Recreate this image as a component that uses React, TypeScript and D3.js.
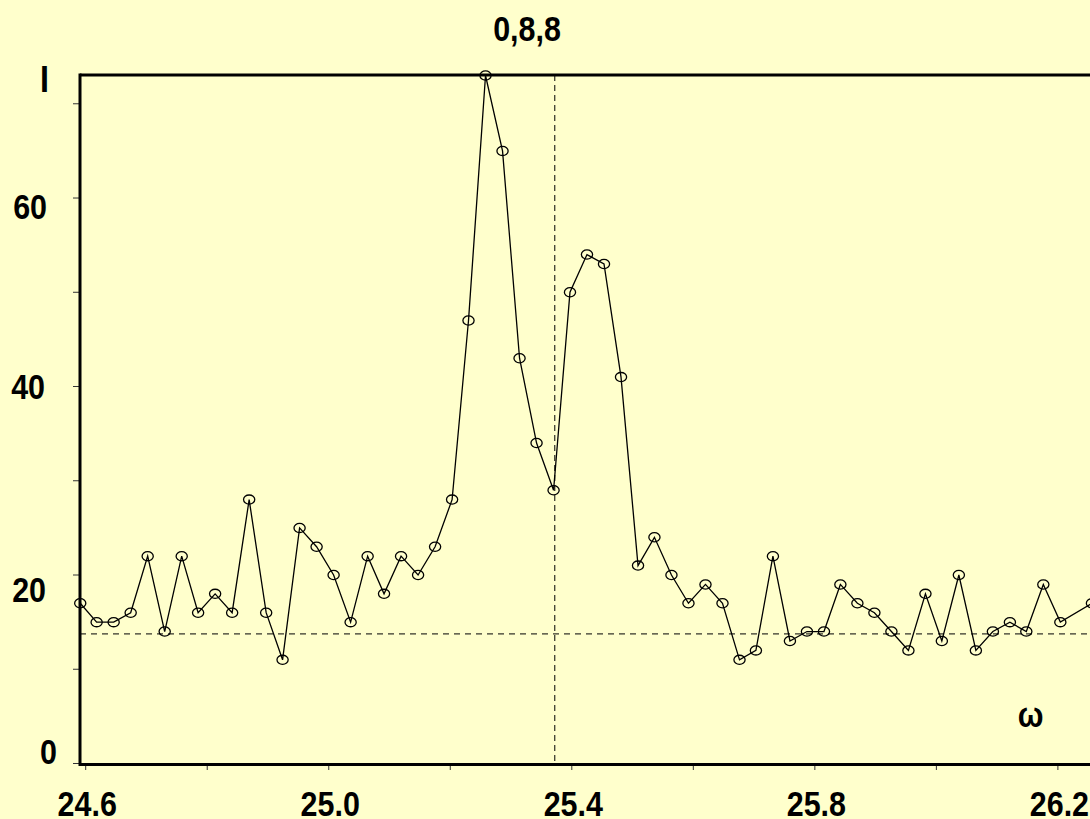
import React, { useEffect } from "react";
import * as d3 from "d3";

// ---- data ----
const omega: number[] = [
  24.591, 24.618, 24.646, 24.674, 24.702, 24.730, 24.758, 24.785, 24.813, 24.841,
  24.869, 24.897, 24.924, 24.952, 24.980, 25.008, 25.036, 25.064, 25.091, 25.119,
  25.147, 25.175, 25.203, 25.230, 25.258, 25.286, 25.314, 25.342, 25.370, 25.397,
  25.425, 25.453, 25.481, 25.509, 25.536, 25.564, 25.592, 25.620, 25.648, 25.676,
  25.703, 25.731, 25.759, 25.787, 25.815, 25.842, 25.870, 25.898, 25.926, 25.954,
  25.982, 26.009, 26.037, 26.065, 26.093, 26.121, 26.148, 26.176, 26.204, 26.256,
];
const intensity: number[] = [
  17, 15, 15, 16, 22, 14, 22, 16, 18, 16,
  28, 16, 11, 25, 23, 20, 15, 22, 18, 22,
  20, 23, 28, 47, 73, 65, 43, 34, 29, 50,
  54, 53, 41, 21, 24, 20, 17, 19, 17, 11,
  12, 22, 13, 14, 14, 19, 17, 16, 14, 12,
  18, 13, 20, 12, 14, 15, 14, 19, 15, 17,
];
const xTickLabels: number[] = [24.6, 25.0, 25.4, 25.8, 26.2];
const xTicks: number[] = [24.6, 24.8, 25.0, 25.2, 25.4, 25.6, 25.8, 26.0, 26.2];
const yTicks: number[] = [0, 10, 20, 30, 40, 50, 60, 70];
const yTickLabels: number[] = [0, 20, 40, 60];
const title = "0,8,8";
const yTitle = "I";
const xTitle = "ω";
const peakOmega = 25.372;
const backgroundLevel = 13.75;

// ---- layout ----
const W = 1090;
const H = 819;
const left = 80;
const top = 75;
const bottom = 764.5;
const BG = "#FFFFCC";
const FONT = "'Liberation Sans', Arial, Helvetica, sans-serif";
const FS = 35;
const SX = 0.87;
const yLabelLayout: Record<number, { x: number; dy: number }> = {
  0: { x: 57, dy: 0 },
  20: { x: 46, dy: 27 },
  40: { x: 45, dy: 12 },
  60: { x: 47, dy: 21 },
};

export default function App() {
  useEffect(() => {
    document.body.style.margin = "0";
    document.body.style.background = BG;
  }, []);

  const x = d3.scaleLinear().domain([24.6, 26.2]).range([85.7, 1057.9]);
  const y = d3.scaleLinear().domain([0, 73]).range([763.5, 75.5]);

  const pts = omega.map((o, i) => [x(o), y(intensity[i])] as [number, number]);
  const line = d3.line<[number, number]>()(pts) || "";

  const txt = (s: string, tx: number, ty: number, anchor: string, fs = FS) => (
    <text
      key={s + tx + ty}
      transform={`translate(${tx},${ty}) scale(${SX},1)`}
      textAnchor={anchor}
      fontFamily={FONT}
      fontWeight="bold"
      fontSize={fs}
      fill="#000"
    >
      {s}
    </text>
  );

  return (
    <svg width={W} height={H} style={{ display: "block", background: BG }}>
      <rect x={0} y={0} width={W} height={H} fill={BG} />
      {/* dashed reference lines */}
      <line
        x1={left}
        x2={W}
        y1={y(backgroundLevel)}
        y2={y(backgroundLevel)}
        stroke="#000"
        strokeWidth={1}
        strokeDasharray="6,5"
      />
      <line
        x1={x(peakOmega)}
        x2={x(peakOmega)}
        y1={top}
        y2={bottom}
        stroke="#000"
        strokeWidth={1}
        strokeDasharray="6,4"
      />
      {/* y ticks */}
      {yTicks.map((v) => (
        <line key={"yt" + v} x1={73} x2={left} y1={y(v)} y2={y(v)} stroke="#333" strokeWidth={1} />
      ))}
      {/* x ticks */}
      {xTicks.map((v) => (
        <line key={"xt" + v} x1={x(v)} x2={x(v)} y1={bottom} y2={770} stroke="#333" strokeWidth={1} />
      ))}
      {/* data line and markers */}
      <path d={line} fill="none" stroke="#000" strokeWidth={1.3} />
      {pts.map(([px, py], i) => (
        <ellipse key={"p" + i} cx={px} cy={py} rx={5.6} ry={4.6} fill="none" stroke="#000" strokeWidth={1.3} />
      ))}
      {/* frame */}
      <line x1={left} x2={W} y1={top} y2={top} stroke="#000" strokeWidth={3} />
      <line x1={left} x2={W} y1={bottom} y2={bottom} stroke="#000" strokeWidth={3} />
      <line x1={left} x2={left} y1={top - 1.5} y2={bottom + 1.5} stroke="#000" strokeWidth={3} />
      {/* labels */}
      {xTickLabels.map((v) => txt(v.toFixed(1), x(v) + 1.5, 816, "middle"))}
      {yTickLabels.map((v) => txt(String(v), yLabelLayout[v].x, y(v) + yLabelLayout[v].dy, "end"))}
      {txt(title, 527, 41, "middle")}
      {txt(yTitle, 44.5, 92, "middle", 37)}
      {txt(xTitle, 1030.5, 727, "middle")}
    </svg>
  );
}
